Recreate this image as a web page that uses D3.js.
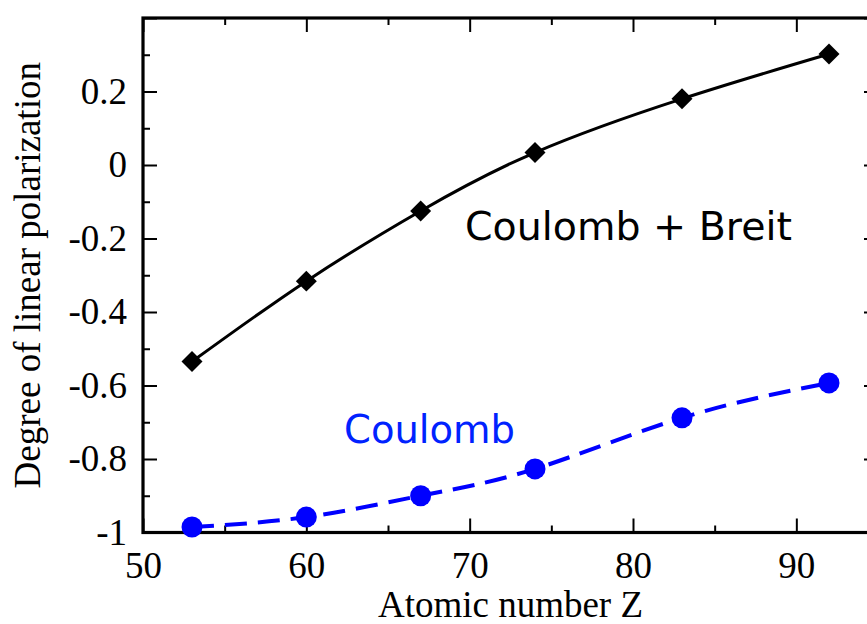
<!DOCTYPE html>
<html>
<head>
<meta charset="utf-8">
<script src="https://cdn.jsdelivr.net/npm/d3@7"></script>
<style>
  html, body { margin: 0; padding: 0; background: #fff; }
  svg { display: block; }
</style>
</head>
<body>
<svg id="chart" width="867" height="624"></svg>
<script>
// Atomic number of each computed ion
const atomicNumbers = [53, 60, 67, 74, 83, 92];
// Degree of linear polarization, Coulomb + Breit interaction
const coulombBreit = [-0.535, -0.316, -0.125, 0.034, 0.180, 0.302];
// Degree of linear polarization, Coulomb interaction only
const coulomb = [-0.985, -0.958, -0.900, -0.827, -0.688, -0.593];

const xMajorTicks = [50, 60, 70, 80, 90];
const xMinorTicks = [55, 65, 75, 85, 95];
const yMajorTicks = [-1, -0.8, -0.6, -0.4, -0.2, 0, 0.2, 0.4];
const yMinorTicks = [-0.9, -0.7, -0.5, -0.3, -0.1, 0.1, 0.3];
const yTickLabels = ["-1", "-0.8", "-0.6", "-0.4", "-0.2", "0", "0.2", ""];

const svg = d3.select("#chart");
const plotLeft = 143, plotRight = 878, plotTop = 18, plotBottom = 532.5;

const x = d3.scaleLinear().domain([50, 95]).range([plotLeft, plotRight]);
const y = d3.scaleLinear().domain([-1, 0.4]).range([plotBottom, plotTop]);

const serif = "'Liberation Serif', 'Times New Roman', serif";
const sans = "'DejaVu Sans', sans-serif";
const tickFont = 37;

function styleAxis(g) {
  g.select(".domain").remove();
  g.selectAll(".tick line").attr("stroke", "#000").attr("stroke-width", 2);
  g.selectAll(".tick text")
    .attr("fill", "#000")
    .attr("font-family", serif)
    .attr("font-size", tickFont);
}

// Bottom axis with labels, inward ticks
svg.append("g").attr("transform", `translate(0,${plotBottom})`)
  .call(d3.axisBottom(x).tickValues(xMajorTicks).tickSize(-14).tickPadding(19)
    .tickFormat(d3.format("d")))
  .call(styleAxis);
svg.append("g").attr("transform", `translate(0,${plotBottom})`)
  .call(d3.axisBottom(x).tickValues(xMinorTicks).tickSize(-7).tickFormat(""))
  .call(styleAxis);
// Top axis, ticks only
svg.append("g").attr("transform", `translate(0,${plotTop})`)
  .call(d3.axisTop(x).tickValues(xMajorTicks).tickSize(-14).tickFormat(""))
  .call(styleAxis);
svg.append("g").attr("transform", `translate(0,${plotTop})`)
  .call(d3.axisTop(x).tickValues(xMinorTicks).tickSize(-7).tickFormat(""))
  .call(styleAxis);

// Left axis with labels
svg.append("g").attr("transform", `translate(${plotLeft},0)`)
  .call(d3.axisLeft(y).tickValues(yMajorTicks).tickSize(-14).tickPadding(16)
    .tickFormat((d, i) => yTickLabels[i]))
  .call(styleAxis);
svg.append("g").attr("transform", `translate(${plotLeft},0)`)
  .call(d3.axisLeft(y).tickValues(yMinorTicks).tickSize(-7).tickFormat(""))
  .call(styleAxis);
// Right axis, ticks only
svg.append("g").attr("transform", `translate(${plotRight},0)`)
  .call(d3.axisRight(y).tickValues(yMajorTicks).tickSize(-14).tickFormat(""))
  .call(styleAxis);
svg.append("g").attr("transform", `translate(${plotRight},0)`)
  .call(d3.axisRight(y).tickValues(yMinorTicks).tickSize(-7).tickFormat(""))
  .call(styleAxis);

// Plot frame
svg.append("rect")
  .attr("x", plotLeft).attr("y", plotTop)
  .attr("width", plotRight - plotLeft).attr("height", plotBottom - plotTop)
  .attr("fill", "none").attr("stroke", "#000").attr("stroke-width", 3.2);

const line = d3.line().curve(d3.curveNatural)
  .x(d => x(d[0])).y(d => y(d[1]));

const breitPts = atomicNumbers.map((z, i) => [z, coulombBreit[i]]);
const coulPts = atomicNumbers.map((z, i) => [z, coulomb[i]]);

// Coulomb + Breit curve
svg.append("path").datum(breitPts)
  .attr("d", line).attr("fill", "none")
  .attr("stroke", "#000").attr("stroke-width", 3);

// Coulomb curve (dashed)
svg.append("path").datum(coulPts)
  .attr("d", line).attr("fill", "none")
  .attr("stroke", "#0000ff").attr("stroke-width", 4)
  .attr("stroke-dasharray", "22,11");

// Diamond markers
svg.append("g").selectAll("path").data(breitPts).join("path")
  .attr("transform", d => `translate(${x(d[0])},${y(d[1])}) rotate(45)`)
  .attr("d", d3.symbol().type(d3.symbolSquare).size(220))
  .attr("fill", "#000");

// Circle markers
svg.append("g").selectAll("circle").data(coulPts).join("circle")
  .attr("cx", d => x(d[0])).attr("cy", d => y(d[1]))
  .attr("r", 10.5).attr("fill", "#0000ff");

// Series labels
svg.append("text").attr("x", 465).attr("y", 240)
  .attr("font-family", sans).attr("font-size", 39.5).attr("fill", "#000")
  .text("Coulomb + Breit");
svg.append("text").attr("x", 344).attr("y", 443)
  .attr("font-family", sans).attr("font-size", 38.5).attr("fill", "#0022ff")
  .text("Coulomb");

// Axis titles
svg.append("text").attr("x", (plotLeft + plotRight) / 2).attr("y", 617)
  .attr("text-anchor", "middle")
  .attr("font-family", serif).attr("font-size", 37).attr("fill", "#000")
  .text("Atomic number Z");
svg.append("text")
  .attr("transform", `translate(40,${(plotTop + plotBottom) / 2}) rotate(-90)`)
  .attr("text-anchor", "middle")
  .attr("font-family", serif).attr("font-size", 37).attr("fill", "#000")
  .text("Degree of linear polarization");
</script>
</body>
</html>
